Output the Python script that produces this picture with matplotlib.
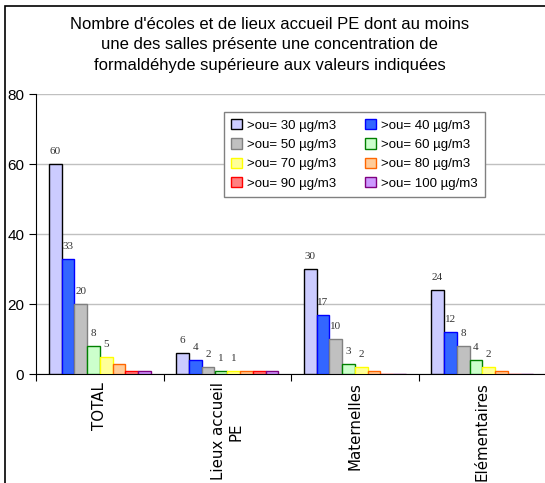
import matplotlib
matplotlib.use("Agg")
import matplotlib.pyplot as plt
from matplotlib.patches import Rectangle
import numpy as np

categories = ["TOTAL", "Lieux accueil\nPE", "Maternelles", "Elémentaires"]
series_names = [">ou= 30 µg/m3", ">ou= 40 µg/m3", ">ou= 50 µg/m3", ">ou= 60 µg/m3",
                ">ou= 70 µg/m3", ">ou= 80 µg/m3", ">ou= 90 µg/m3", ">ou= 100 µg/m3"]
s30 = [60, 6, 30, 24]
s40 = [33, 4, 17, 12]
s50 = [20, 2, 10, 8]
s60 = [8, 1, 3, 4]
s70 = [5, 1, 2, 2]
s80 = [3, 1, 1, 1]
s90 = [1, 1, 0, 0]
s100 = [1, 1, 0, 0]
series = [s30, s40, s50, s60, s70, s80, s90, s100]
labelled = [True, True, True, True, True, False, False, False]

fills = ["#CCCCFF", "#3366FF", "#C0C0C0", "#CCFFCC", "#FFFF99", "#FFCC99", "#FF8080", "#CC99FF"]
edges = ["#000000", "#0000FF", "#808080", "#008000", "#FFFF00", "#FF6600", "#FF0000", "#800080"]

fig = plt.figure(figsize=(5.45, 4.83), dpi=100)
ax = fig.add_axes([36/545, 109/483, 510/545, 280/483])

# outer chart frame
fig.patches.append(Rectangle((5/545, -0.1), 1.2, 1 - 6/483 + 0.1, transform=fig.transFigure,
                             fill=False, edgecolor="black", linewidth=1.2))

bw = 0.1
x0 = np.arange(len(categories))
handles = []
for i, (vals, fc, ec) in enumerate(zip(series, fills, edges)):
    xs = x0 + 0.1 + bw * i
    b = ax.bar(xs, vals, width=bw, align="edge", color=fc, edgecolor=ec, linewidth=1.0,
               label=series_names[i], zorder=3)
    handles.append(b)
    if labelled[i]:
        for x, v in zip(xs, vals):
            if v > 0:
                ax.text(x + bw/2, v + 2.2, str(v), ha="center", va="bottom",
                        fontsize=8, family="Liberation Serif", color="#333333")

ax.set_xlim(0, len(categories))
ax.set_ylim(0, 80)
ax.set_yticks([0, 20, 40, 60, 80])
ax.set_yticklabels(["0", "20", "40", "60", "80"], fontsize=11, family="Liberation Sans")
ax.yaxis.grid(True, color="#C0C0C0", linewidth=1, zorder=0)
ax.set_axisbelow(True)
ax.set_xticks(np.arange(len(categories) + 1))
ax.set_xticklabels([])
ax.set_xticks(x0 + 0.5, minor=True)
ax.set_xticklabels(categories, minor=True, rotation=90, fontsize=10.8, family="DejaVu Sans",
                   va="top", ha="center", multialignment="center")
ax.tick_params(axis="x", which="minor", length=0, pad=6)
ax.tick_params(axis="x", which="major", length=5, direction="out")
ax.tick_params(axis="y", length=5, direction="out")
for s in ["top", "right"]:
    ax.spines[s].set_visible(False)

order = [0, 2, 4, 6, 1, 3, 5, 7]
leg = ax.legend([handles[k] for k in order], [series_names[k] for k in order], ncol=2,
                loc="upper left", bbox_to_anchor=((224-36)/510, (374-112)/280),
                borderaxespad=0,
                prop={"family": "Liberation Sans", "size": 9.5},
                fancybox=False, edgecolor="#808080", framealpha=1,
                handlelength=0.8, handleheight=0.8, columnspacing=2.2, labelspacing=0.5,
                handletextpad=0.4, borderpad=0.55)
leg.get_frame().set_linewidth(1)

fig.text(0.495, 1 - 45/483, "Nombre d'écoles et de lieux accueil PE dont au moins\n"
         "une des salles présente une concentration de\n"
         "formaldéhyde supérieure aux valeurs indiquées",
         ha="center", va="center", fontsize=12, family="Liberation Sans", linespacing=1.45,
         )

fig.savefig("out.png", dpi=100)
